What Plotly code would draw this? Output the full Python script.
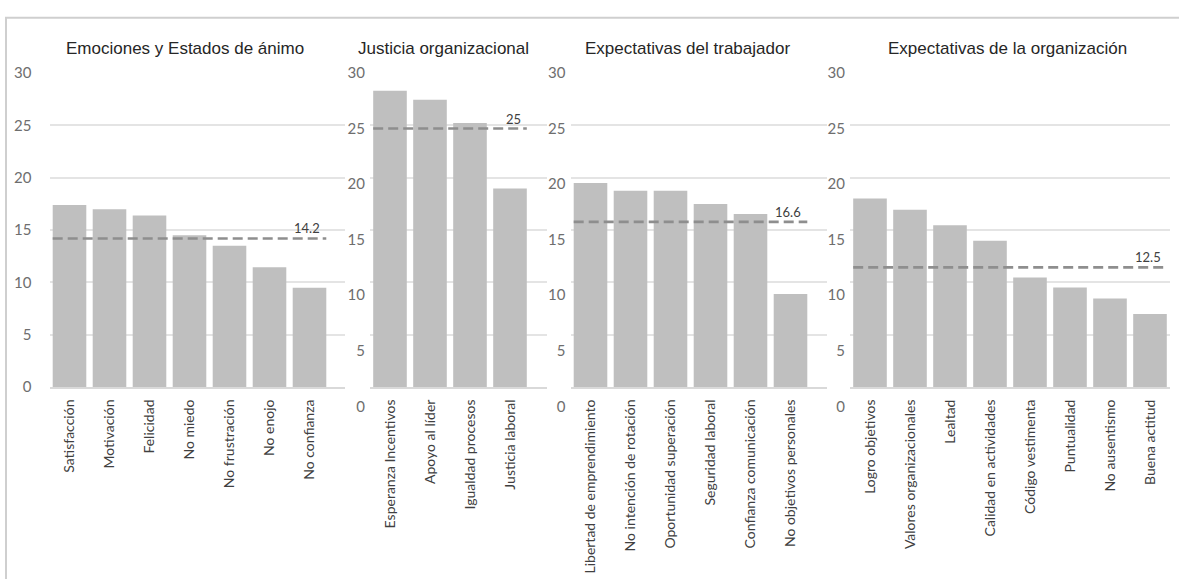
import numpy as np
import plotly.graph_objects as go

W, H = 1179, 579

# ---- data -------------------------------------------------------------
emociones_cats = ["Satisfacción", "Motivación", "Felicidad", "No miedo",
                  "No frustración", "No enojo", "No confianza"]
emociones_vals = [17.4, 17.0, 16.4, 14.5, 13.5, 11.45, 9.5]
emociones_media = 14.2

justicia_cats = ["Esperanza Incentivos", "Apoyo al líder", "Igualdad procesos",
                 "Justicia laboral"]
justicia_vals = [28.4, 27.6, 25.5, 19.6]
justicia_media = 25

trabajador_cats = ["Libertad de emprendimiento", "No intención de rotación",
                   "Oportunidad superación", "Seguridad laboral",
                   "Confianza comunicación", "No objetivos personales"]
trabajador_vals = [20.1, 19.4, 19.4, 18.2, 17.3, 10.1]
trabajador_media = 16.6

organizacion_cats = ["Logro objetivos", "Valores organizacionales", "Lealtad",
                     "Calidad en actividades", "Código vestimenta", "Puntualidad",
                     "No ausentismo", "Buena actitud"]
organizacion_vals = [18.7, 17.7, 16.3, 14.9, 11.6, 10.7, 9.7, 8.3]
organizacion_media = 12.5

titulos = ["Emociones y Estados de ánimo", "Justicia organizacional",
           "Expectativas del trabajador", "Expectativas de la organización"]
y_ticks = [0, 5, 10, 15, 20, 25, 30]

# ---- layout geometry (pixels) ----------------------------------------
panels = [
    dict(cats=emociones_cats, vals=emociones_vals, media=emociones_media,
         x0=49.5, x1=345, title_x=185, label_y0=389.3, label_gap=17),
    dict(cats=justicia_cats, vals=justicia_vals, media=justicia_media,
         x0=370, x1=547, title_x=443, label_y0=409, label_gap=4),
    dict(cats=trabajador_cats, vals=trabajador_vals, media=trabajador_media,
         x0=570.5, x1=827, title_x=687.5, label_y0=409, label_gap=4),
    dict(cats=organizacion_cats, vals=organizacion_vals, media=organizacion_media,
         x0=850, x1=1170, title_x=1007.5, label_y0=409, label_gap=4),
]
PLOT_TOP, PLOT_BOTTOM = 65, 389.3
PITCH = 40.0           # pixels per category
BARGAP = 0.16

BAR_COLOR = "#bfbfbf"
GRID_COLOR = "#e4e4e4"
MEAN_COLOR = "#8e8e8e"
TICK_FONT = dict(family="Lato", size=14, color="#404040")
YTICK_FONT = dict(family="Lato", size=15, color="#6e6e6e")


def px_x(v):
    return v / W


def px_y(v):
    return 1 - v / H


fig = go.Figure()
layout = {}
annotations = []
extra_axis = 5

for i, p in enumerate(panels, start=1):
    n = len(p["cats"])
    xs = np.arange(n)
    xa, ya = f"x{i}", f"y{i}"
    xkey, ykey = ("xaxis", "yaxis") if i == 1 else (f"xaxis{i}", f"yaxis{i}")

    fig.add_trace(go.Bar(x=xs, y=p["vals"], xaxis=xa, yaxis=ya,
                         marker=dict(color=BAR_COLOR, line=dict(width=0)),
                         width=1 - BARGAP, hoverinfo="x+y", showlegend=False))
    half = (1 - BARGAP) / 2
    fig.add_trace(go.Scatter(x=[-half, n - 1 + half], y=[p["media"], p["media"]],
                             xaxis=xa, yaxis=ya, mode="lines",
                             line=dict(color=MEAN_COLOR, width=2.6, dash="10px,5px"),
                             hoverinfo="skip", showlegend=False))
    annotations.append(dict(x=n - 1 + half, y=p["media"], xref=xa, yref=ya,
                            text=f"{p['media']:g}", showarrow=False,
                            xanchor="right", yanchor="bottom", xshift=-4, yshift=0,
                            font=dict(family="Lato", size=13, color="#404040")))

    width_px = p["x1"] - p["x0"]
    x_dom = [px_x(p["x0"]), px_x(p["x1"])]
    layout[xkey] = dict(domain=x_dom, anchor=ya,
                        range=[-0.5, -0.5 + width_px / PITCH],
                        tickmode="array", tickvals=list(xs), ticktext=p["cats"],
                        tickangle=-90, tickfont=TICK_FONT, ticks="",
                        ticklabelstandoff=5,
                        showgrid=False, zeroline=False, showline=True,
                        linecolor="#d9d9d9", linewidth=1.5, fixedrange=True)

    y_dom = [px_y(PLOT_BOTTOM), px_y(PLOT_TOP)]
    if p["label_y0"] == PLOT_BOTTOM:
        # value labels sit on the same scale as the gridlines
        layout[ykey] = dict(domain=y_dom, anchor=xa, range=[0, 30],
                            tickmode="array", tickvals=y_ticks,
                            tickfont=YTICK_FONT, ticks="",
                            ticklabelstandoff=p["label_gap"],
                            showgrid=True, gridcolor=GRID_COLOR, gridwidth=1.5,
                            zeroline=False, fixedrange=True)
    else:
        # value scale runs from the lower label row up to the top gridline
        scale_px = p["label_y0"] - PLOT_TOP
        lo = 30 * (p["label_y0"] - PLOT_BOTTOM) / scale_px
        layout[ykey] = dict(domain=y_dom, anchor=xa, range=[lo, 30],
                            tickmode="array",
                            tickvals=list(np.linspace(lo, 30, 7)),
                            showticklabels=False, ticks="",
                            showgrid=True, gridcolor=GRID_COLOR, gridwidth=1.5,
                            zeroline=False, fixedrange=True)
        j = extra_axis
        extra_axis += 1
        fig.add_trace(go.Scatter(x=[], y=[], xaxis=f"x{j}", yaxis=f"y{j}",
                                 showlegend=False, hoverinfo="skip"))
        layout[f"xaxis{j}"] = dict(domain=x_dom, anchor=f"y{j}", range=[0, 1],
                                   visible=False, fixedrange=True)
        layout[f"yaxis{j}"] = dict(domain=[px_y(p["label_y0"]), px_y(PLOT_TOP)],
                                   anchor=f"x{j}", range=[0, 30],
                                   tickmode="array", tickvals=y_ticks,
                                   tickfont=YTICK_FONT, ticks="",
                                   ticklabelstandoff=p["label_gap"],
                                   showgrid=False, zeroline=False,
                                   showline=False, fixedrange=True)

    annotations.append(dict(x=px_x(p["title_x"]), y=px_y(40), xref="paper",
                            yref="paper", text=titulos[i - 1], showarrow=False,
                            xanchor="center", yanchor="middle",
                            font=dict(family="Liberation Sans", size=17,
                                      color="#262626")))

fig.update_layout(
    width=W, height=H,
    margin=dict(l=0, r=0, t=0, b=0),
    paper_bgcolor="white", plot_bgcolor="rgba(0,0,0,0)",
    annotations=annotations,
    shapes=[dict(type="rect", xref="paper", yref="paper",
                 x0=px_x(6), x1=1.02, y0=-0.02, y1=px_y(8),
                 line=dict(color="#cfcfcf", width=2))],
    **layout,
)

fig.write_html("out.html")
